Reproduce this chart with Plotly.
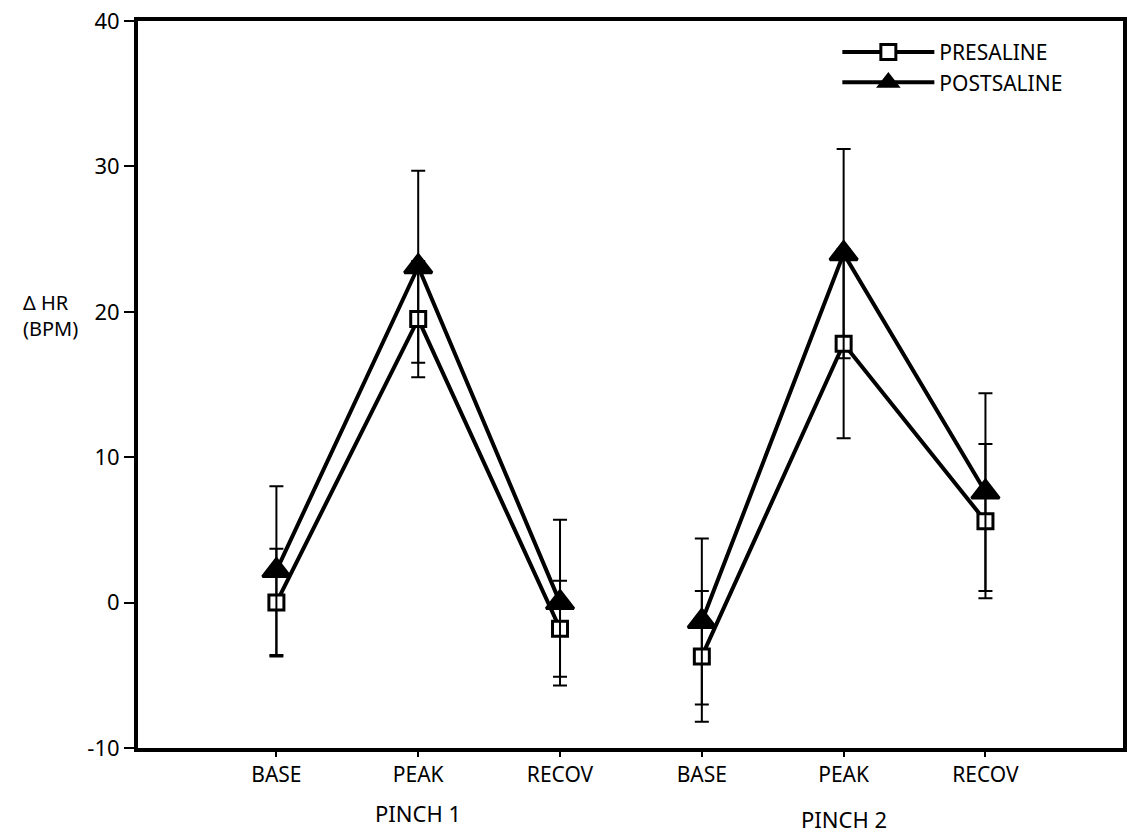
import plotly.graph_objects as go

phases = ["BASE", "PEAK", "RECOV", "BASE", "PEAK", "RECOV"]
positions = [1, 2, 3, 4, 5, 6]
groups = ["PINCH 1", "PINCH 2"]
group_pos = [2, 5]
y_ticks = [-10, 0, 10, 20, 30, 40]
y_tick_labels = ["-10", "0", "10", "20", "30", "40"]

pre_mean = [0.0, 19.5, -1.8, -3.7, 17.8, 5.6]
pre_err = [3.7, 4.0, 3.3, 4.5, 6.5, 5.3]
post_mean = [2.2, 23.1, 0.0, -1.3, 24.0, 7.6]
post_err = [5.8, 6.6, 5.7, 5.7, 7.2, 6.8]

FONT = "Noto Sans"

fig = go.Figure()
series = [
    ("PRESALINE", pre_mean, pre_err, "square", 15, "white"),
    ("POSTSALINE", post_mean, post_err, "triangle-up", 24, "black"),
]
for name, y, e, sym, size, fill in series:
    for j, (a, b) in enumerate([(0, 3), (3, 6)]):
        fig.add_trace(go.Scatter(
            x=positions[a:b], y=y[a:b],
            mode="lines+markers",
            name=name,
            legendgroup=name,
            showlegend=(j == 0),
            line=dict(color="black", width=4),
            marker=dict(symbol=sym, size=size, color=fill,
                        line=dict(color="black", width=3)),
            error_y=dict(type="data", array=e[a:b], visible=True,
                         color="black", thickness=2, width=7),
        ))

fig.update_layout(
    width=1132, height=838,
    margin=dict(l=138, r=5, t=20, b=90),
    paper_bgcolor="white", plot_bgcolor="white",
    font=dict(family=FONT, size=21, color="black"),
    showlegend=True,
    legend=dict(x=0.71, y=0.985, xanchor="left", yanchor="top",
                bgcolor="rgba(0,0,0,0)", itemwidth=92,
                font=dict(size=21), tracegroupgap=0),
    xaxis=dict(range=[0.024, 6.97], tickmode="array", tickvals=positions,
               ticktext=phases, showline=True, linecolor="black", linewidth=4,
               mirror=True, ticks="outside", ticklen=5, tickwidth=2, tickcolor="black",
               showgrid=False, zeroline=False, tickfont=dict(size=21)),
    yaxis=dict(range=[-10, 40], tickmode="array", tickvals=y_ticks,
               ticktext=y_tick_labels,
               showline=True, linecolor="black", linewidth=4, mirror=True,
               ticks="outside", ticklen=10, tickwidth=2, tickcolor="black",
               showgrid=False, zeroline=False, tickfont=dict(size=22)),
)

fig.add_annotation(x=0.0, y=0.595, xref="paper", yref="paper", xanchor="right",
                   xshift=-58, text="Δ HR<br>(BPM)", showarrow=False,
                   align="left", font=dict(size=20))
for g, p, s in zip(groups, group_pos, [-48, -54]):
    fig.add_annotation(x=p, y=0, xref="x", yref="paper", yshift=s, yanchor="top",
                       text=g, showarrow=False, font=dict(size=22))

fig.write_html("out.html")
